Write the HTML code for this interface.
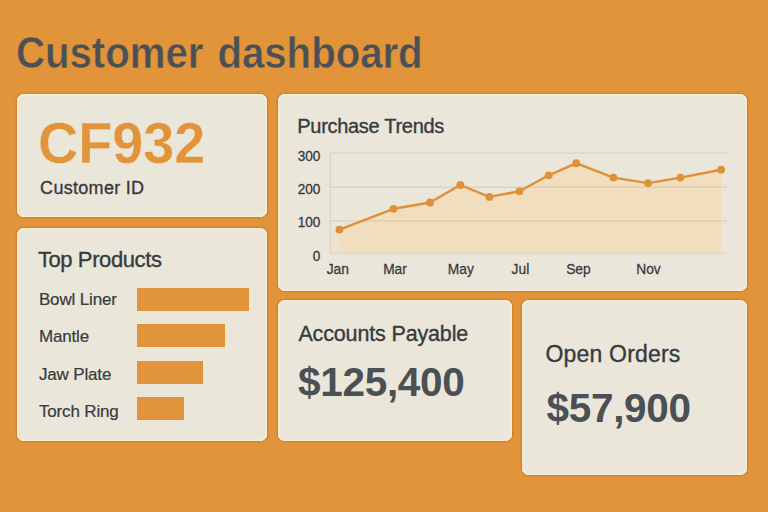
<!DOCTYPE html>
<html lang="en">
<head>
<meta charset="utf-8">
<title>Customer dashboard</title>
<style>
  html, body { margin: 0; padding: 0; }
  body {
    width: 768px; height: 512px; overflow: hidden; position: relative;
    background: #E2943A;
    font-family: "Liberation Sans", sans-serif;
    color: #4A4F52;
  }
  .abs { position: absolute; white-space: nowrap; line-height: 1; transform-origin: 0 0; margin: 0; }
  .card { position: absolute; background: #EBE6DA; border-radius: 7px; box-shadow: inset 0 0 0 1.3px #F8EDD8, inset 0 0 1.5px 1.3px #F3EBDC, 0 0 1.5px 0.4px rgba(185,110,25,0.55); }
  h1 { font-size: 44.3px; font-weight: bold; color: #4A5154; left: 15.9px; top: 30.8px; transform: scaleX(0.906); word-spacing: 3.3px; -webkit-text-stroke: 0.5px #E2943A; }
  .big-id { font-size: 57.5px; font-weight: bold; color: #E2943A; left: 38.2px; top: 115px; transform: scaleX(0.969); -webkit-text-stroke: 0.3px #EBE6DA; }
  .label { color: #353B3E; -webkit-text-stroke: 0.35px #353B3E; }
  .num { font-size: 40.5px; font-weight: bold; color: #4A5054; }
  .bar { position: absolute; background: #E2943A; height: 23.2px; left: 137px; }
  .prod { font-size: 17px; color: #353B3E; left: 38.9px; letter-spacing: -0.15px; -webkit-text-stroke: 0.2px #353B3E; }
</style>
</head>
<body>
  <h1 class="abs">Customer dashboard</h1>

  <!-- Customer ID card -->
  <div class="card" style="left:17px; top:93.5px; width:250.2px; height:123.5px;"></div>
  <div class="abs big-id">CF932</div>
  <div class="abs label" style="left:40.1px; top:178.8px; font-size:18px; letter-spacing:0.3px;">Customer ID</div>

  <!-- Top products card -->
  <div class="card" style="left:17px; top:227.7px; width:250.2px; height:213.3px;"></div>
  <div class="abs label" style="left:37.9px; top:248.7px; font-size:22px; letter-spacing:-0.4px;">Top Products</div>
  <div class="abs prod" style="top:291.3px;">Bowl Liner</div>
  <div class="abs prod" style="top:328.2px;">Mantle</div>
  <div class="abs prod" style="top:366.2px;">Jaw Plate</div>
  <div class="abs prod" style="top:402.9px;">Torch Ring</div>
  <div class="bar" style="top:287.5px; width:111.5px;"></div>
  <div class="bar" style="top:324.2px; width:88px;"></div>
  <div class="bar" style="top:360.7px; width:66px;"></div>
  <div class="bar" style="top:397.3px; width:47px;"></div>

  <!-- Purchase trends card -->
  <div class="card" style="left:278px; top:93.5px; width:468.5px; height:197px;"></div>
  <div class="abs label" style="left:297.3px; top:116px; font-size:20px; letter-spacing:-0.3px;">Purchase Trends</div>
  <svg class="abs" style="left:278px; top:94px;" width="468" height="196" viewBox="278 94 468 196">
    <polygon fill="#F0DEBE"
      points="339.4,229.6 393.5,208.8 430,202.5 460.3,185 489.4,196.9 519.4,191.3 548.7,175.3 576.2,163.2 613.4,177.6 648.1,183.1 680.4,177.6 721.1,169.7 721.1,253 339.4,253"/>
    <rect x="331" y="231" width="8.4" height="22" fill="#F0DEBE" fill-opacity="0.45"/>
    <g stroke="#8A7A55" stroke-opacity="0.19" stroke-width="1.1" fill="none">
      <line x1="330" y1="153" x2="727" y2="153"/>
      <line x1="330" y1="187.1" x2="727" y2="187.1"/>
      <line x1="330" y1="220.9" x2="727" y2="220.9"/>
      <line x1="330" y1="253.3" x2="727" y2="253.3"/>
      <line x1="330.3" y1="153" x2="330.3" y2="253.3"/>
    </g>
    <polyline fill="none" stroke="#DF9038" stroke-width="2.4" stroke-linejoin="round" stroke-linecap="round"
      points="339.4,229.6 393.5,208.8 430,202.5 460.3,185 489.4,196.9 519.4,191.3 548.7,175.3 576.2,163.2 613.4,177.6 648.1,183.1 680.4,177.6 721.1,169.7"/>
    <g fill="#DF9038">
      <circle cx="339.4" cy="229.6" r="3.9"/><circle cx="393.5" cy="208.8" r="3.9"/><circle cx="430" cy="202.5" r="3.9"/>
      <circle cx="460.3" cy="185" r="3.9"/><circle cx="489.4" cy="196.9" r="3.9"/><circle cx="519.4" cy="191.3" r="3.9"/>
      <circle cx="548.7" cy="175.3" r="3.9"/><circle cx="576.2" cy="163.2" r="3.9"/><circle cx="613.4" cy="177.6" r="3.9"/>
      <circle cx="648.1" cy="183.1" r="3.9"/><circle cx="680.4" cy="177.6" r="3.9"/><circle cx="721.1" cy="169.7" r="3.9"/>
    </g>
    <g font-family="Liberation Sans, sans-serif" font-size="14.6" fill="#353B3E" stroke="#353B3E" stroke-width="0.3" text-anchor="end">
      <text transform="translate(320.3 161) scale(0.93 1)">300</text>
      <text transform="translate(320.3 194.3) scale(0.93 1)">200</text>
      <text transform="translate(320.3 227.4) scale(0.93 1)">100</text>
      <text transform="translate(320.3 260.6) scale(0.93 1)">0</text>
    </g>
    <g font-family="Liberation Sans, sans-serif" font-size="15.3" fill="#353B3E" stroke="#353B3E" stroke-width="0.3" text-anchor="middle">
      <text transform="translate(337.8 274.3) scale(0.9 1)">Jan</text>
      <text transform="translate(395 274.3) scale(0.9 1)">Mar</text>
      <text transform="translate(460.8 274.3) scale(0.9 1)">May</text>
      <text transform="translate(520.4 274.3) scale(0.9 1)">Jul</text>
      <text transform="translate(578.4 274.3) scale(0.9 1)">Sep</text>
      <text transform="translate(648.5 274.3) scale(0.9 1)">Nov</text>
    </g>
  </svg>

  <!-- Accounts payable -->
  <div class="card" style="left:278px; top:300.3px; width:234px; height:140.7px;"></div>
  <div class="abs label" style="left:298.4px; top:324px; font-size:21.5px; letter-spacing:-0.15px;">Accounts Payable</div>
  <div class="abs num" style="left:298px; top:362px; letter-spacing:-0.3px;">$125,400</div>

  <!-- Open orders -->
  <div class="card" style="left:522px; top:300.3px; width:224.5px; height:175px;"></div>
  <div class="abs label" style="left:545.4px; top:343px; font-size:23px; letter-spacing:0.2px;">Open Orders</div>
  <div class="abs num" style="left:546.5px; top:388px; letter-spacing:-0.3px;">$57,900</div>
</body>
</html>
